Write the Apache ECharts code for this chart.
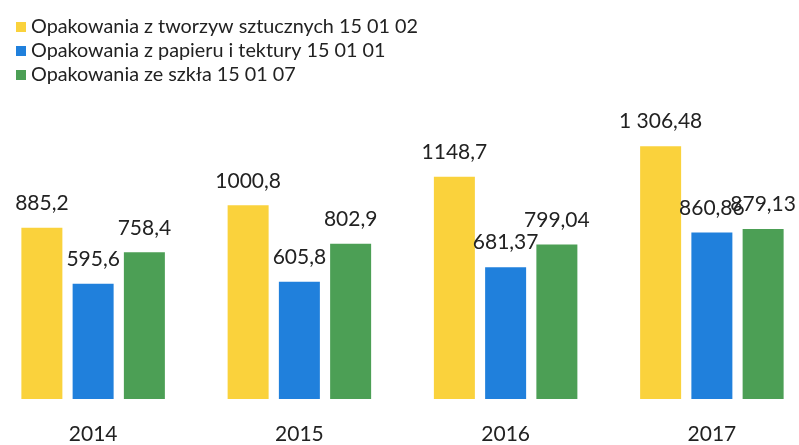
<!DOCTYPE html>
<html>
<head>
<meta charset="utf-8">
<script src="https://cdn.jsdelivr.net/npm/echarts@6/dist/echarts.min.js"></script>
<style>
  html, body { margin: 0; padding: 0; background: #fff; overflow: hidden; }
  /* the plot runs a little past both window edges, so the chart box is wider and shifted left */
  #chart { width: 840px; height: 445px; margin-left: -20px; }
</style>
</head>
<body>
<div id="chart"></div>
<script>
// data
const years = ["2014", "2015", "2016", "2017"];
const plastic = [885.2, 1000.8, 1148.7, 1306.48];
const paper = [595.6, 605.8, 681.37, 860.86];
const glass = [758.4, 802.9, 799.04, 879.13];
// labels as printed (Polish decimal comma)
const plasticLabels = ["885,2", "1000,8", "1148,7", "1 306,48"];
const paperLabels = ["595,6", "605,8", "681,37", "860,86"];
const glassLabels = ["758,4", "802,9", "799,04", "879,13"];
const names = [
  "Opakowania z tworzyw sztucznych 15 01 02",
  "Opakowania z papieru i tektury 15 01 01",
  "Opakowania ze szkła 15 01 07"
];

const chart = echarts.init(document.getElementById("chart"));
const font = "Lato, 'Open Sans', sans-serif";

function makeSeries(name, data, labels, color) {
  return {
    name: name,
    type: "bar",
    data: data,
    barWidth: 41,
    barGap: "25%",
    itemStyle: { color: color },
    label: {
      show: true,
      position: "top",
      distance: 14,
      color: "#222",
      fontFamily: font,
      fontSize: 21,
      formatter: (p) => labels[p.dataIndex],
    },
  };
}

chart.setOption({
  animation: false,
  legend: {
    orient: "vertical",
    left: 31,
    top: 12,
    itemWidth: 10,
    itemHeight: 10,
    itemGap: 4,
    icon: "rect",
    textStyle: { fontFamily: font, fontSize: 19.8, color: "#222" },
    data: names,
  },
  grid: { left: 10, width: 825, top: 101, bottom: 39 },
  xAxis: {
    type: "category",
    data: years,
    axisLine: { show: false },
    axisTick: { show: false },
    axisLabel: { fontFamily: font, fontSize: 21, color: "#222", margin: 25 },
  },
  yAxis: {
    type: "value",
    min: 0,
    max: 1540,
    show: false,
    splitLine: { show: false },
  },
  series: [
    makeSeries(names[0], plastic, plasticLabels, "#FAD23C"),
    makeSeries(names[1], paper, paperLabels, "#2080DC"),
    makeSeries(names[2], glass, glassLabels, "#4C9F55"),
  ],
});
</script>
</body>
</html>
